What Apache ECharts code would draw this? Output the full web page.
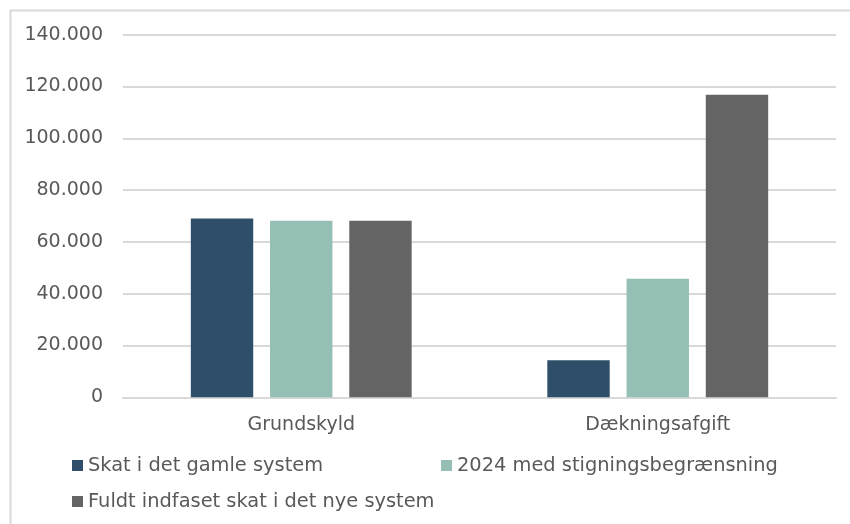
<!DOCTYPE html>
<html>
<head>
<meta charset="utf-8">
<script src="https://cdn.jsdelivr.net/npm/echarts@6/dist/echarts.min.js"></script>
<style>
  html, body { margin: 0; padding: 0; background: #ffffff; }
  #chart { width: 850px; height: 524px; }
</style>
</head>
<body>
<div id="chart"></div>
<script>
// Categories and series values (kr.)
const categories = ['Grundskyld', 'Dækningsafgift'];
const seriesNames = [
  'Skat i det gamle system',
  '2024 med stigningsbegrænsning',
  'Fuldt indfaset skat i det nye system'
];
const oldSystem = [69000, 14300];
const capped2024 = [68200, 45800];
const fullyPhased = [68200, 116800];
const yTicks = { min: 0, max: 140000, interval: 20000 };

const colors = ['#2e4e69', '#95bfb5', '#646464'];
const textColor = '#595959';
const gridColor = '#d9d9d9';
const font = 'DejaVu Sans';

function fmt(v) {
  return String(v).replace(/\B(?=(\d{3})+(?!\d))/g, '.');
}

const chart = echarts.init(document.getElementById('chart'), null, { renderer: 'canvas' });

const legendBase = {
  orient: 'horizontal',
  icon: 'rect',
  itemWidth: 11,
  itemHeight: 11,
  padding: 0,
  selectedMode: false,
  textStyle: { color: textColor, fontFamily: font, fontSize: 19.4 }
};

chart.setOption({
  animation: false,
  color: colors,
  graphic: [{
    type: 'rect',
    shape: { x: 10.5, y: 10.5, width: 900, height: 600 },
    style: { fill: 'none', stroke: gridColor, lineWidth: 2 },
    silent: true,
    z: -1
  }],
  grid: { left: 123, right: 14, top: 34.7, bottom: 126.7, containLabel: false },
  legend: [
    Object.assign({}, legendBase, { data: [seriesNames[0]], left: 72, top: 456 }),
    Object.assign({}, legendBase, { data: [seriesNames[1]], left: 441, top: 456 }),
    Object.assign({}, legendBase, { data: [seriesNames[2]], left: 72, top: 492 })
  ],
  xAxis: {
    type: 'category',
    data: categories,
    axisLine: { show: true, lineStyle: { color: gridColor, width: 2 } },
    axisTick: { show: false },
    axisLabel: { color: textColor, fontFamily: font, fontSize: 19, margin: 18 }
  },
  yAxis: {
    type: 'value',
    min: yTicks.min,
    max: yTicks.max,
    interval: yTicks.interval,
    axisLine: { show: false },
    axisTick: { show: false },
    splitLine: { lineStyle: { color: gridColor, width: 2 } },
    axisLabel: { color: textColor, fontFamily: font, fontSize: 19, margin: 20, formatter: fmt }
  },
  series: [
    { name: seriesNames[0], type: 'bar', data: oldSystem, barWidth: '17.5%', barGap: '27%' },
    { name: seriesNames[1], type: 'bar', data: capped2024, barWidth: '17.5%', barGap: '27%' },
    { name: seriesNames[2], type: 'bar', data: fullyPhased, barWidth: '17.5%', barGap: '27%' }
  ]
});
</script>
</body>
</html>
